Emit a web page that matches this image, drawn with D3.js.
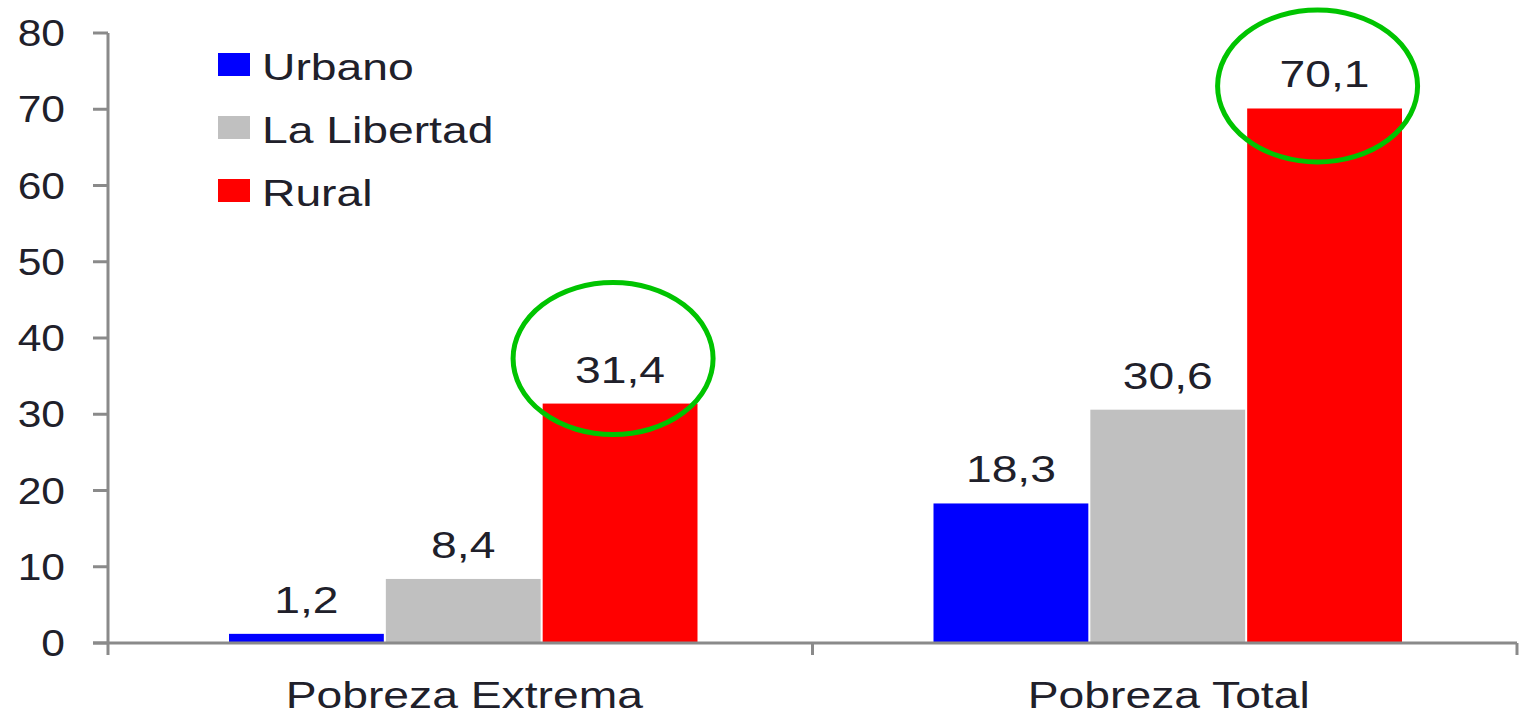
<!DOCTYPE html>
<html>
<head>
<meta http-equiv='Content-Type' content='text/html; charset=UTF-8'/>
<script src="https://cdn.jsdelivr.net/npm/d3@7/dist/d3.min.js"></script>
<style>
    body { margin: 0; background: #fff; }
    svg { display: block; }
    .lbl { font-family: "Liberation Sans", Arial, sans-serif; fill: #20202a; font-size: 37px; }
    .axis-line { stroke: #8a8a8a; stroke-width: 3; fill: none; }
</style>
</head>
<body>
<svg id="main" width="1523" height="717"></svg>

<script>
    // data
    var categories = ['Pobreza Extrema', 'Pobreza Total'];
    var series = ['Urbano', 'La Libertad', 'Rural'];
    var colors = ['#0000ff', '#c0c0c0', '#ff0000'];
    var urbano = [1.2, 18.3];
    var laLibertad = [8.4, 30.6];
    var rural = [31.4, 70.1];
    var yTicks = [0, 10, 20, 30, 40, 50, 60, 70, 80];
    // which bars get the green ring
    var circled = [[0, 2], [1, 2]];

    var values = [urbano, laLibertad, rural];
    var fmt = function(v){ return d3.format('.1f')(v).replace('.', ',') };
    var sx = 1.25; // text in the picture is stretched wide

    var svg = d3.select('#main');
    var pLeft = 108, pRight = 1517, pTop = 33, pBottom = 643;

    var x0 = d3.scaleBand().domain(categories).range([pLeft, pRight]);
    var x1 = d3.scaleBand().domain(series).range([120, x0.bandwidth() - 114]);
    var y = d3.scaleLinear().domain([0, 80]).range([pBottom, pTop]);

    // bars
    var groups = svg.selectAll('g.cat')
        .data(categories)
        .enter().append('g')
        .attr('class', 'cat')
        .attr('transform', d => 'translate(' + x0(d) + ',0)');

    groups.selectAll('rect')
        .data((c, i) => series.map((s, j) => ({s: s, j: j, v: values[j][i]})))
        .enter().append('rect')
        .attr('x', d => x1(d.s) + 1)
        .attr('width', x1.bandwidth() - 2)
        .attr('y', d => y(d.v))
        .attr('height', d => y(0) - y(d.v))
        .style('fill', d => colors[d.j]);

    groups.selectAll('text.val')
        .data((c, i) => series.map((s, j) => ({s: s, j: j, v: values[j][i]})))
        .enter().append('text')
        .attr('class', 'lbl val')
        .attr('text-anchor', 'middle')
        .attr('transform', d => 'translate(' + (x1(d.s) + x1.bandwidth() / 2) + ',' + (y(d.v) - 21) + ') scale(' + sx + ',1)')
        .text(d => fmt(d.v));

    // y axis
    svg.append('line').attr('class', 'axis-line')
        .attr('x1', pLeft).attr('x2', pLeft).attr('y1', y(80)).attr('y2', pBottom + 12);
    svg.selectAll('line.ytick')
        .data(yTicks).enter().append('line')
        .attr('class', 'axis-line ytick')
        .attr('x1', pLeft - 15).attr('x2', pLeft)
        .attr('y1', d => y(d)).attr('y2', d => y(d));
    svg.selectAll('text.ytl')
        .data(yTicks).enter().append('text')
        .attr('class', 'lbl ytl')
        .attr('text-anchor', 'end')
        .attr('transform', d => 'translate(65,' + (y(d) + 13) + ') scale(1.15,1)')
        .text(d => d);

    // x axis
    svg.append('line').attr('class', 'axis-line')
        .attr('x1', pLeft - 15).attr('x2', pRight).attr('y1', pBottom).attr('y2', pBottom);
    var bounds = categories.map(c => x0(c)).concat([pRight]);
    svg.selectAll('line.xtick')
        .data(bounds.slice(1)).enter().append('line')
        .attr('class', 'axis-line xtick')
        .attr('x1', d => d).attr('x2', d => d)
        .attr('y1', pBottom).attr('y2', pBottom + 12);
    svg.selectAll('text.xtl')
        .data(categories).enter().append('text')
        .attr('class', 'lbl xtl')
        .attr('text-anchor', 'middle')
        .attr('transform', d => 'translate(' + (x0(d) + x0.bandwidth() / 2 + 4) + ',708) scale(' + sx + ',1)')
        .text(d => d);

    // legend
    var leg = svg.selectAll('g.leg')
        .data(series).enter().append('g')
        .attr('class', 'leg')
        .attr('transform', (d, i) => 'translate(218,' + (53 + i * 63) + ')');
    leg.append('rect')
        .attr('width', 32).attr('height', 23)
        .style('fill', (d, i) => colors[i]);
    leg.append('text')
        .attr('class', 'lbl')
        .attr('transform', 'translate(44,27) scale(' + sx + ',1)')
        .text(d => d);

    // green rings, kept inside the picture at the top
    var ry = 76;
    svg.selectAll('ellipse')
        .data(circled).enter().append('ellipse')
        .attr('cx', d => x0(categories[d[0]]) + x1(series[d[1]]) + x1.bandwidth() / 2 - 7)
        .attr('cy', d => Math.max(y(values[d[1]][d[0]]) - 45, ry + 10))
        .attr('rx', 100).attr('ry', ry)
        .style('fill', 'none')
        .style('stroke', '#00c400')
        .style('stroke-width', 5);
</script>
</body>
</html>
